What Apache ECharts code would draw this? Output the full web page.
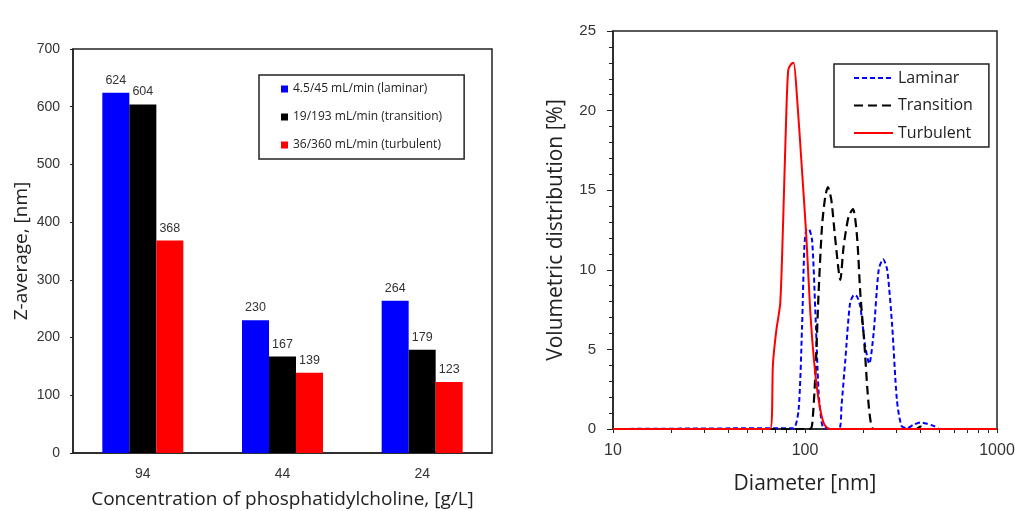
<!DOCTYPE html>
<html><head><meta charset="utf-8">
<script src="https://cdn.jsdelivr.net/npm/echarts@6/dist/echarts.min.js"></script>
<style>html,body{margin:0;padding:0;background:#fff}#c{width:1015px;height:511px}</style>
</head><body><div id="c"></div>
<script>
// ---- Left chart: Z-average bars ----
const categories = ['94', '44', '24'];
const barNames = ['4.5/45 mL/min (laminar)', '19/193 mL/min (transition)', '36/360 mL/min (turbulent)'];
const zLaminar = [624, 230, 264];
const zTransition = [604, 167, 179];
const zTurbulent = [368, 139, 123];

// ---- Right chart: volumetric distribution ----
const lineNames = ['Laminar', 'Transition', 'Turbulent'];
const lamD = [10, 75, 87, 92.6, 96.5, 99.2, 101.5, 104.4, 108.8, 113.1, 117.7, 121, 125, 150, 155, 162.2, 171.7, 180.5, 187, 194, 206, 216, 227.6, 242, 255.3, 268, 284.6, 301, 318, 340, 365, 398, 432, 467, 506, 1000];
const lamV = [0, 0.05, 0.05, 1.2, 6.4, 11.4, 12.5, 12.57, 11.9, 7.5, 2.3, 0.8, 0.1, 0, 1.5, 4.35, 7.9, 8.43, 8.3, 7.7, 5.19, 4.1, 6.0, 10.0, 10.67, 10.0, 6.44, 1.84, 0.2, 0.05, 0.25, 0.41, 0.33, 0.2, 0, 0];
const traD = [10, 106, 109, 113.1, 117.7, 122.6, 127.5, 131.6, 137.1, 143.9, 152.7, 158.9, 168.7, 177.8, 186.6, 194.1, 203.7, 212, 219, 227.6, 380, 400, 420, 1000];
const traV = [0, 0, 0.3, 3.3, 8.54, 12.72, 14.6, 15.19, 14.39, 11.88, 9.37, 11.46, 13.35, 13.81, 12.1, 8.54, 5.4, 2.26, 0.58, 0, 0, 0.15, 0, 0];
const turD = [10, 65.9, 68.1, 70.9, 74.3, 76.7, 79.9, 81.8, 84.5, 87.2, 90.8, 96.4, 101.6, 106.6, 111.8, 117.7, 125, 134, 1000];
const turV = [0, 0, 4.1, 6.2, 7.9, 12.5, 19.8, 22.55, 22.9, 23.0, 20.9, 16.3, 12.1, 7.3, 4.1, 1.84, 0.38, 0, 0];

function pairs(d, v) { return d.map((x, i) => [x, v[i]]); }

const NUM = '"Liberation Sans", Arial, sans-serif';
const TXT = '"Open Sans", sans-serif';
const AX = '#222';

const chart = echarts.init(document.getElementById('c'), null, { renderer: 'canvas' });

const barSeries = [zLaminar, zTransition, zTurbulent].map((vals, i) => ({
  type: 'bar', name: barNames[i], xAxisIndex: 0, yAxisIndex: 0,
  data: vals, barWidth: 27, barGap: '0%',
  itemStyle: { color: ['#0000ff', '#000000', '#ff0000'][i] },
  label: { show: true, position: 'top', distance: 6, fontSize: 12.5, color: '#333', fontFamily: NUM },
  emphasis: { disabled: true }
}));

const lineSeries = [[lamD, lamV, '#0000ff', [5, 3], 2], [traD, traV, '#000000', [9, 5], 2.2], [turD, turV, '#ff0000', 'solid', 2]].map((s, i) => ({
  type: 'line', name: lineNames[i], xAxisIndex: 1, yAxisIndex: 1,
  data: pairs(s[0], s[1]), symbol: 'none', smooth: 0.25,
  lineStyle: { color: s[2], type: s[3], width: s[4] },
  itemStyle: { color: s[2] },
  emphasis: { disabled: true }
}));

chart.setOption({
  animation: false,
  backgroundColor: '#fff',
  grid: [
    { left: 73, top: 49, width: 419, height: 404, show: true, borderColor: AX, borderWidth: 1.5, outerBoundsMode: 'none', containLabel: false },
    { left: 613, top: 31, width: 384, height: 398, show: true, borderColor: AX, borderWidth: 1.5, outerBoundsMode: 'none', containLabel: false }
  ],
  xAxis: [
    {
      type: 'category', gridIndex: 0, data: categories,
      axisLine: { lineStyle: { color: AX, width: 1.5 } },
      axisTick: { alignWithLabel: true, length: 3, lineStyle: { color: AX } },
      axisLabel: { fontSize: 14, color: '#333', margin: 14, fontFamily: NUM },
      name: 'Concentration of phosphatidylcholine, [g/L]', nameLocation: 'middle', nameGap: 37,
      nameTextStyle: { fontSize: 19, color: AX, fontFamily: TXT }
    },
    {
      type: 'log', gridIndex: 1, min: 10, max: 1000, logBase: 10,
      axisLine: { lineStyle: { color: AX, width: 1.5 } },
      axisTick: { show: true, length: 4, lineStyle: { color: AX } },
      minorTick: { show: true, splitNumber: 9, length: 4, lineStyle: { color: AX } },
      axisLabel: { fontSize: 16, color: '#333', margin: 14, fontFamily: NUM, formatter: v => String(v) },
      splitLine: { show: false },
      name: 'Diameter [nm]', nameLocation: 'middle', nameGap: 45,
      nameTextStyle: { fontSize: 21, color: AX, fontFamily: TXT }
    }
  ],
  yAxis: [
    {
      type: 'value', gridIndex: 0, min: 0, max: 700, interval: 100,
      axisLine: { show: true, lineStyle: { color: AX, width: 1.5 } },
      axisTick: { show: true, length: 3, lineStyle: { color: AX } },
      axisLabel: { fontSize: 14, color: '#333', margin: 13, fontFamily: NUM },
      splitLine: { show: false },
      name: 'Z-average, [nm]', nameLocation: 'middle', nameGap: 42,
      nameTextStyle: { fontSize: 19, color: AX, fontFamily: TXT }
    },
    {
      type: 'value', gridIndex: 1, min: 0, max: 25, interval: 5,
      axisLine: { show: true, lineStyle: { color: AX, width: 1.5 } },
      axisTick: { show: true, length: 6, lineStyle: { color: AX } },
      minorTick: { show: true, splitNumber: 5, length: 4, lineStyle: { color: AX } },
      axisLabel: { fontSize: 15, color: '#333', margin: 17, fontFamily: NUM },
      splitLine: { show: false },
      name: 'Volumetric distribution [%]', nameLocation: 'middle', nameGap: 46,
      nameTextStyle: { fontSize: 21, color: AX, fontFamily: TXT }
    }
  ],
  legend: [
    {
      data: barNames, orient: 'vertical', left: 259, top: 75,
      icon: 'rect', itemWidth: 7, itemHeight: 7, itemGap: 16,
      padding: [8, 22, 8, 22], borderColor: AX, borderWidth: 1.5,
      selectedMode: false,
      textStyle: { fontSize: 12, color: AX, fontFamily: TXT }
    },
    {
      data: lineNames, orient: 'vertical', left: 834, top: 64,
      itemWidth: 39, itemHeight: 14, itemGap: 11.5,
      padding: [6, 16, 6, 19], borderColor: AX, borderWidth: 1.5,
      selectedMode: false,
      itemStyle: { opacity: 0 },
      textStyle: { fontSize: 16, color: AX, fontFamily: TXT }
    }
  ],
  series: barSeries.concat(lineSeries)
});
</script></body></html>
